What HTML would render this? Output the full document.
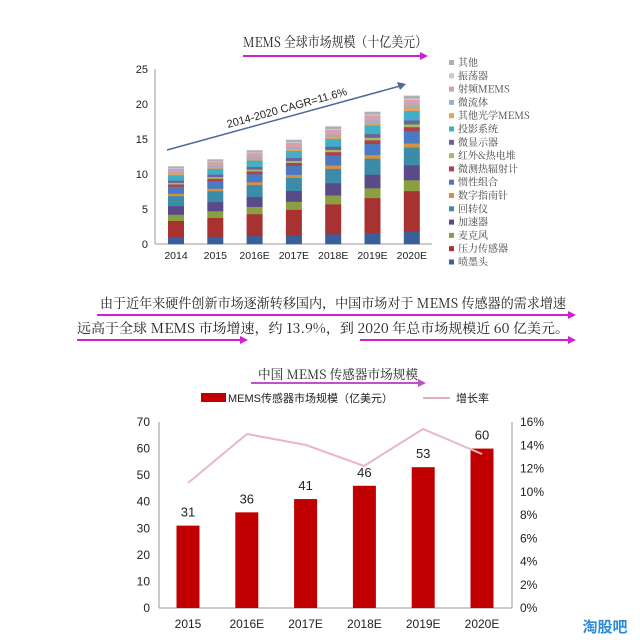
<!DOCTYPE html>
<html><head><meta charset="utf-8"><style>
body{margin:0;background:#fff;width:640px;height:644px;overflow:hidden;font-family:"Liberation Sans","Noto Sans CJK SC",sans-serif;}
svg{display:block}
</style></head><body>
<svg id="s" width="640" height="644" xmlns="http://www.w3.org/2000/svg" font-family="Liberation Sans, Noto Sans CJK SC, sans-serif">
<text x="243" y="47" font-size="14" fill="#222" textLength="184" lengthAdjust="spacingAndGlyphs" font-family="Noto Serif CJK SC, serif">MEMS 全球市场规模（十亿美元）</text>
<line x1="243" y1="56" x2="420" y2="56" stroke="#d020d0" stroke-width="2"/>
<polygon points="420,52 428,56 420,60" fill="#d020d0"/>
<line x1="155" y1="69" x2="155" y2="244" stroke="#999"/>
<line x1="155" y1="244" x2="432" y2="244" stroke="#999"/>
<g font-size="11" fill="#222" text-anchor="end">
<text x="148" y="248">0</text><text x="148" y="213">5</text><text x="148" y="178">10</text><text x="148" y="143">15</text><text x="148" y="108">20</text><text x="148" y="73">25</text>
</g>
<g id="bars1"></g>
<g font-size="10.5" fill="#222" text-anchor="middle" id="xl1"></g>
<line x1="167" y1="150" x2="400" y2="86" stroke="#4a6a9a" stroke-width="1.5"/>
<polygon points="406,84 397,82 400,90" fill="#4a6a9a"/>
<text x="0" y="0" font-size="11" fill="#222" transform="translate(228,128) rotate(-15.5)">2014-2020 CAGR=11.6%</text>
<g id="leg1" font-size="10" fill="#444" font-family="Noto Serif CJK SC, serif"></g>
<text x="100" y="308" font-size="13.5" fill="#222" textLength="466" lengthAdjust="spacingAndGlyphs" font-family="Noto Serif CJK SC, serif">由于近年来硬件创新市场逐渐转移国内，中国市场对于 MEMS 传感器的需求增速</text>
<line x1="97" y1="315" x2="570" y2="315" stroke="#d020d0" stroke-width="2"/>
<polygon points="568,311 576,315 568,319" fill="#d020d0"/>
<text x="77" y="333" font-size="13.5" fill="#222" textLength="492" lengthAdjust="spacingAndGlyphs" font-family="Noto Serif CJK SC, serif">远高于全球 MEMS 市场增速，约 13.9%，到 2020 年总市场规模近 60 亿美元。</text>
<line x1="77" y1="340" x2="240" y2="340" stroke="#d020d0" stroke-width="2"/>
<polygon points="240,336 248,340 240,344" fill="#d020d0"/>
<line x1="360" y1="340" x2="570" y2="340" stroke="#d020d0" stroke-width="2"/>
<polygon points="568,336 576,340 568,344" fill="#d020d0"/>
<text x="258" y="379" font-size="13" fill="#222" textLength="160" lengthAdjust="spacingAndGlyphs" font-family="Noto Serif CJK SC, serif">中国 MEMS 传感器市场规模</text>
<line x1="251" y1="383" x2="420" y2="383" stroke="#c050d0" stroke-width="2"/>
<polygon points="418,379 426,383 418,387" fill="#c050d0"/>
<rect x="201" y="393" width="25" height="9" fill="#c00000"/>
<text x="228" y="402" font-size="11" fill="#222">MEMS传感器市场规模（亿美元）</text>
<line x1="423" y1="398" x2="450" y2="398" stroke="#e0b0c0" stroke-width="2"/>
<text x="456" y="402" font-size="11" fill="#222">增长率</text>
<line x1="159" y1="422" x2="159" y2="608" stroke="#999"/>
<line x1="159" y1="608" x2="512" y2="608" stroke="#999"/>
<line x1="512" y1="422" x2="512" y2="608" stroke="#999"/>
<g id="ax2" font-size="12" fill="#222"></g>
<g id="bars2"></g>
<polyline points="188,483 247,434 306,445 364,466 423,429 482,454" fill="none" stroke="#e8b8c8" stroke-width="2"/>
<text x="605" y="632" font-size="15" font-weight="bold" fill="#2a8ad8" text-anchor="middle">淘股吧</text>
</svg>
<script>
var NS="http://www.w3.org/2000/svg";
function el(p,t,a,tx){var e=document.createElementNS(NS,t);for(var k in a)e.setAttribute(k,a[k]);if(tx)e.textContent=tx;p.appendChild(e);return e;}
var cols=["#3a5f9a","#a83232","#8aa040","#5a4a8a","#3a8ca8","#d89040","#4a7ac0","#b04050","#a0c060","#7060a0","#40b0c8","#f0a050","#9ab0d0","#d8a0a8","#c8c8d8","#b0b0b0"];
var fr=[0.09,0.21,0.08,0.11,0.13,0.03,0.09,0.03,0.02,0.03,0.07,0.02,0.02,0.04,0.01,0.02];
var tot=[11.1,12.1,13.4,14.9,16.8,18.9,21.2];
var lab=["2014","2015","2016E","2017E","2018E","2019E","2020E"];
var b1=document.getElementById("bars1"),x1=document.getElementById("xl1");
for(var i=0;i<7;i++){var cx=176+i*39.3;var f=fr.slice();f[1]=0.21+i*0.015;var s=f.reduce(function(a,b){return a+b},0);var y=244;
for(var j=0;j<16;j++){var h=f[j]/s*tot[i]*7;y-=h;el(b1,"rect",{x:cx-8,y:y,width:16,height:h+0.3,fill:cols[j]});}
el(x1,"text",{x:cx,y:259},lab[i]);}
var names=["其他","振荡器","射频MEMS","微流体","其他光学MEMS","投影系统","微显示器","红外&热电堆","微测热辐射计","惯性组合","数字指南针","回转仪","加速器","麦克风","压力传感器","喷墨头"];
var lg=document.getElementById("leg1");
for(var k=0;k<16;k++){var yy=66+k*13.3;el(lg,"rect",{x:449,y:yy-6,width:5,height:5,fill:cols[15-k]});el(lg,"text",{x:458,y:yy},names[k]);}
var ax=document.getElementById("ax2");
for(var v=0;v<=70;v+=10){var yy=608-v*2.657;el(ax,"text",{x:150,y:yy+4,"text-anchor":"end"},""+v);}
for(var p=0;p<=16;p+=2){var yy=608-p/16*186;el(ax,"text",{x:520,y:yy+4},p+"%");}
var v2=[31,36,41,46,53,60],l2=["2015","2016E","2017E","2018E","2019E","2020E"],b2=document.getElementById("bars2");
for(var i=0;i<6;i++){var cx=188+i*58.8,h=v2[i]*2.657;el(b2,"rect",{x:cx-11.5,y:608-h,width:23,height:h,fill:"#c00000"});
el(b2,"text",{x:cx,y:608-h-9,"font-size":"13","text-anchor":"middle",fill:"#222"},""+v2[i]);
el(b2,"text",{x:cx,y:628,"font-size":"12","text-anchor":"middle",fill:"#222"},l2[i]);}
</script>
</body></html>
